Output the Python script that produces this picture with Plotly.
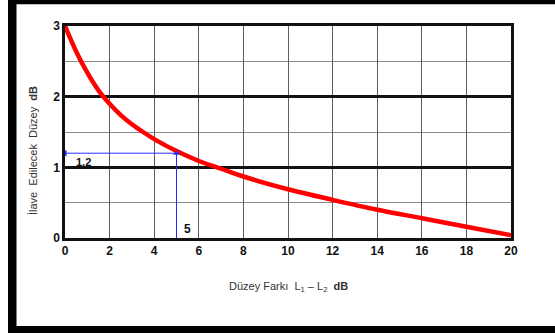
import plotly.graph_objects as go

# ---- data ----
level_diff = [0, 0.5, 1, 1.5, 2, 2.5, 3, 3.5, 4, 5, 6, 7, 8, 10, 12, 14, 16, 18, 20]
added_level = [3.0, 2.64, 2.34, 2.09, 1.90, 1.74, 1.61, 1.50, 1.40, 1.23, 1.09, 0.98,
               0.87, 0.69, 0.54, 0.40, 0.28, 0.16, 0.04]
x_ticks = [0, 2, 4, 6, 8, 10, 12, 14, 16, 18, 20]
y_ticks = [0, 1, 2, 3]
example_x = 5
example_y = 1.2
example_x_label = "5"
example_y_label = "1,2"

# ---- layout geometry (pixels) ----
W, H = 555, 333
L, R, T, B = 65, 511, 26, 238


def px(x):
    return (x - L) / (R - L)


def py(y):
    return (B - y) / (B - T)


FONT = "Liberation Sans, Arial, sans-serif"
BLUE = "#2a2aff"
fig = go.Figure()

fig.add_trace(go.Scatter(
    x=level_diff, y=added_level, mode="lines",
    line=dict(color="#ff0000", width=4.5, shape="spline", smoothing=0.9),
    hoverinfo="skip", showlegend=False,
))

# worked example guide lines (drawn as traces so the arrowheads sit on top)
fig.add_trace(go.Scatter(
    x=[0, example_x, example_x], y=[example_y, example_y, 0], mode="lines",
    line=dict(color=BLUE, width=1), hoverinfo="skip", showlegend=False,
))
fig.add_trace(go.Scatter(
    x=[0, example_x], y=[example_y, example_y], mode="markers",
    marker=dict(symbol=["triangle-left", "triangle-up"], size=6, color=BLUE,
                line=dict(width=0)),
    hoverinfo="skip", showlegend=False, cliponaxis=False,
))

annotations = [
    dict(x=0, y=example_y, xref="x", yref="y", text="<b>" + example_y_label + "</b>",
         showarrow=False, xanchor="left", yanchor="top", xshift=9, yshift=-1,
         font=dict(family=FONT, size=11, color="#111")),
    dict(x=example_x, y=0, xref="x", yref="y", text="<b>" + example_x_label + "</b>",
         showarrow=False, xanchor="left", yanchor="bottom", xshift=5, yshift=0,
         font=dict(family=FONT, size=12, color="#111")),
    # axis titles
    dict(x=px(33), y=py(151), xref="paper", yref="paper",
         text="İlave  Edilecek  Düzey  <b>dB</b>", textangle=-90, showarrow=False,
         xanchor="center", yanchor="middle",
         font=dict(family=FONT, size=11, color="#333")),
    dict(x=px(288), y=py(287), xref="paper", yref="paper",
         text="Düzey Farkı  L<sub>1</sub> – L<sub>2</sub>  <b>dB</b>", showarrow=False,
         xanchor="center", yanchor="middle",
         font=dict(family=FONT, size=11, color="#333")),
]

shapes = [
    # black frame strips
    dict(type="rect", xref="paper", yref="paper", x0=px(8), x1=px(16.5), y0=py(0), y1=py(H),
         fillcolor="#000", line=dict(width=0), layer="above"),
    dict(type="rect", xref="paper", yref="paper", x0=px(8), x1=px(W), y0=py(0), y1=py(4.3),
         fillcolor="#000", line=dict(width=0), layer="above"),
    dict(type="rect", xref="paper", yref="paper", x0=px(8), x1=px(W), y0=py(326), y1=py(H),
         fillcolor="#000", line=dict(width=0), layer="above"),
]

fig.update_layout(
    width=W, height=H,
    margin=dict(l=L, r=W - R, t=T, b=H - B),
    paper_bgcolor="white", plot_bgcolor="white",
    annotations=annotations, shapes=shapes,
    xaxis=dict(range=[0, 20], tickvals=x_ticks,
               ticktext=["<b>%d</b>" % v for v in x_ticks],
               tickfont=dict(family=FONT, size=12, color="#111"),
               showgrid=True, gridcolor="#5e5e5e", gridwidth=1,
               showline=True, linecolor="#111", linewidth=2.5, mirror=True,
               zeroline=False, ticks="", fixedrange=True),
    yaxis=dict(range=[0, 3], tickvals=y_ticks,
               ticktext=["<b>%d</b>" % v for v in y_ticks],
               tickfont=dict(family=FONT, size=12, color="#111"),
               showgrid=True, gridcolor="#111", gridwidth=2.5,
               minor=dict(dtick=0.5, showgrid=True, gridcolor="#8a8a8a", gridwidth=1),
               showline=True, linecolor="#111", linewidth=2.5, mirror=True,
               zeroline=False, ticks="", fixedrange=True),
)

fig.write_html("out.html")
